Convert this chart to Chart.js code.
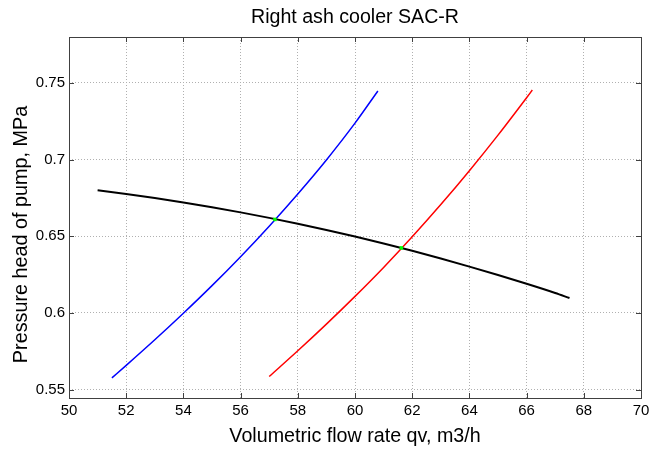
<!DOCTYPE html>
<html>
<head>
<meta charset="utf-8">
<script src="https://cdn.jsdelivr.net/npm/chart.js@4"></script>
<style>
  html, body { margin: 0; padding: 0; background: #fff; }
  #wrap { width: 662px; height: 460px; }
</style>
</head>
<body>
<div id="wrap"><canvas id="grafico" width="662" height="460"></canvas></div>
<script>
// valores
const titulo = "Right ash cooler SAC-R";
const tituloX = "Volumetric flow rate qv, m3/h";
const tituloY = "Pressure head of pump, MPa";
const xTicks = [50, 52, 54, 56, 58, 60, 62, 64, 66, 68, 70];
const yTicks = [0.55, 0.6, 0.65, 0.7, 0.75];

// curva da bomba (preta)
const bombaX = [51, 52, 53, 54, 55, 56, 57, 58, 59, 60, 61, 62, 63, 64, 65, 66, 67, 67.5];
const bombaY = [0.680, 0.6776, 0.6750, 0.6721, 0.6690, 0.6656, 0.6620, 0.6582, 0.6541, 0.6498, 0.6453, 0.6405, 0.6355, 0.6302, 0.6247, 0.6190, 0.6130, 0.6097];

// curva do sistema (azul)
const azulX = [51.5, 52, 53, 54, 55, 56, 57, 58, 59, 60, 60.8];
const azulY = [0.5576, 0.5658, 0.5825, 0.5998, 0.6178, 0.6367, 0.6566, 0.6776, 0.6998, 0.7238, 0.7448];

// curva do sistema (vermelha)
const vermX = [57, 58, 59, 60, 61, 62, 63, 64, 65, 66, 66.2];
const vermY = [0.5585, 0.5753, 0.5927, 0.6108, 0.6297, 0.6497, 0.6707, 0.6928, 0.7160, 0.7404, 0.7454];

// pontos de operação (verde)
const pontoX = [57.2, 61.62];
const pontoY = [0.661, 0.6424];

const pares = (xs, ys) => xs.map((x, i) => ({ x: x, y: ys[i] }));

const fonte = "'Liberation Sans', Arial, sans-serif";

// caixa, marcas internas e rótulos estilo MATLAB
const caixa = {
  id: "caixa",
  afterDraw(chart) {
    const { ctx, chartArea: a, scales } = chart;
    ctx.save();
    ctx.strokeStyle = "#404040";
    ctx.lineWidth = 1;
    ctx.beginPath();
    const t = 5;
    scales.x.ticks.forEach(tk => {
      const px = Math.round(scales.x.getPixelForValue(tk.value)) + 0.5;
      ctx.moveTo(px, a.bottom); ctx.lineTo(px, a.bottom - t);
      ctx.moveTo(px, a.top); ctx.lineTo(px, a.top + t);
    });
    scales.y.ticks.forEach(tk => {
      const py = Math.round(scales.y.getPixelForValue(tk.value)) + 0.5;
      ctx.moveTo(a.left, py); ctx.lineTo(a.left + t, py);
      ctx.moveTo(a.right, py); ctx.lineTo(a.right - t, py);
    });
    ctx.stroke();
    ctx.strokeRect(Math.round(a.left) + 0.5, Math.round(a.top) + 0.5,
      Math.round(a.right - a.left), Math.round(a.bottom - a.top));

    // título centrado sobre a área do gráfico
    ctx.fillStyle = "#000";
    ctx.textAlign = "center";
    ctx.textBaseline = "middle";
    ctx.font = "19.6px " + fonte;
    ctx.fillText(titulo, (a.left + a.right) / 2, 18);

    // rótulo do eixo y
    ctx.translate(22, (a.top + a.bottom) / 2 + 17);
    ctx.rotate(-Math.PI / 2);
    ctx.font = "19.8px " + fonte;
    ctx.fillText(tituloY, 0, 0);
    ctx.restore();
  }
};

const ctx = document.getElementById("grafico").getContext("2d");
new Chart(ctx, {
  type: "scatter",
  data: {
    datasets: [
      {
        data: pares(pontoX, pontoY),
        showLine: false,
        pointStyle: "rect",
        pointRadius: 2.5,
        backgroundColor: "#00ff00",
        borderColor: "#00ff00",
        borderWidth: 0,
        order: 0
      },
      {
        data: pares(bombaX, bombaY),
        showLine: true,
        borderColor: "#000000",
        borderWidth: 2,
        pointRadius: 0,
        cubicInterpolationMode: "monotone",
        order: 1
      },
      {
        data: pares(azulX, azulY),
        showLine: true,
        borderColor: "#0000ff",
        borderWidth: 1.5,
        pointRadius: 0,
        cubicInterpolationMode: "monotone",
        order: 2
      },
      {
        data: pares(vermX, vermY),
        showLine: true,
        borderColor: "#ff0000",
        borderWidth: 1.5,
        pointRadius: 0,
        cubicInterpolationMode: "monotone",
        order: 2
      }
    ]
  },
  options: {
    responsive: false,
    animation: false,
    layout: { padding: { left: 0, right: 21, top: 37, bottom: 0 } },
    plugins: {
      legend: { display: false },
      tooltip: { enabled: false },
      title: { display: false }
    },
    scales: {
      x: {
        type: "linear",
        min: 50,
        max: 70,
        afterFit(scale) { scale.height = 62; },
        afterBuildTicks(scale) { scale.ticks = xTicks.map(v => ({ value: v })); },
        ticks: {
          color: "#000",
          font: { family: fonte, size: 15 },
          padding: 4,
          maxRotation: 0
        },
        grid: { color: "#b0b0b0", lineWidth: 1, drawTicks: false },
        border: { display: false, dash: [1, 2] },
        title: {
          display: true,
          text: tituloX,
          color: "#000",
          font: { family: fonte, size: 19.7 },
          padding: { top: 0, bottom: 12 }
        }
      },
      y: {
        type: "linear",
        min: 0.5445,
        max: 0.78,
        afterFit(scale) { scale.width = 69; },
        afterBuildTicks(scale) { scale.ticks = yTicks.map(v => ({ value: v })); },
        ticks: {
          color: "#000",
          font: { family: fonte, size: 15 },
          padding: 4,
          callback: v => String(Number(v.toFixed(2)))
        },
        grid: { color: "#b0b0b0", lineWidth: 1, drawTicks: false },
        border: { display: false, dash: [1, 2] },
        title: { display: false }
      }
    }
  },
  plugins: [caixa]
});
</script>
</body>
</html>
